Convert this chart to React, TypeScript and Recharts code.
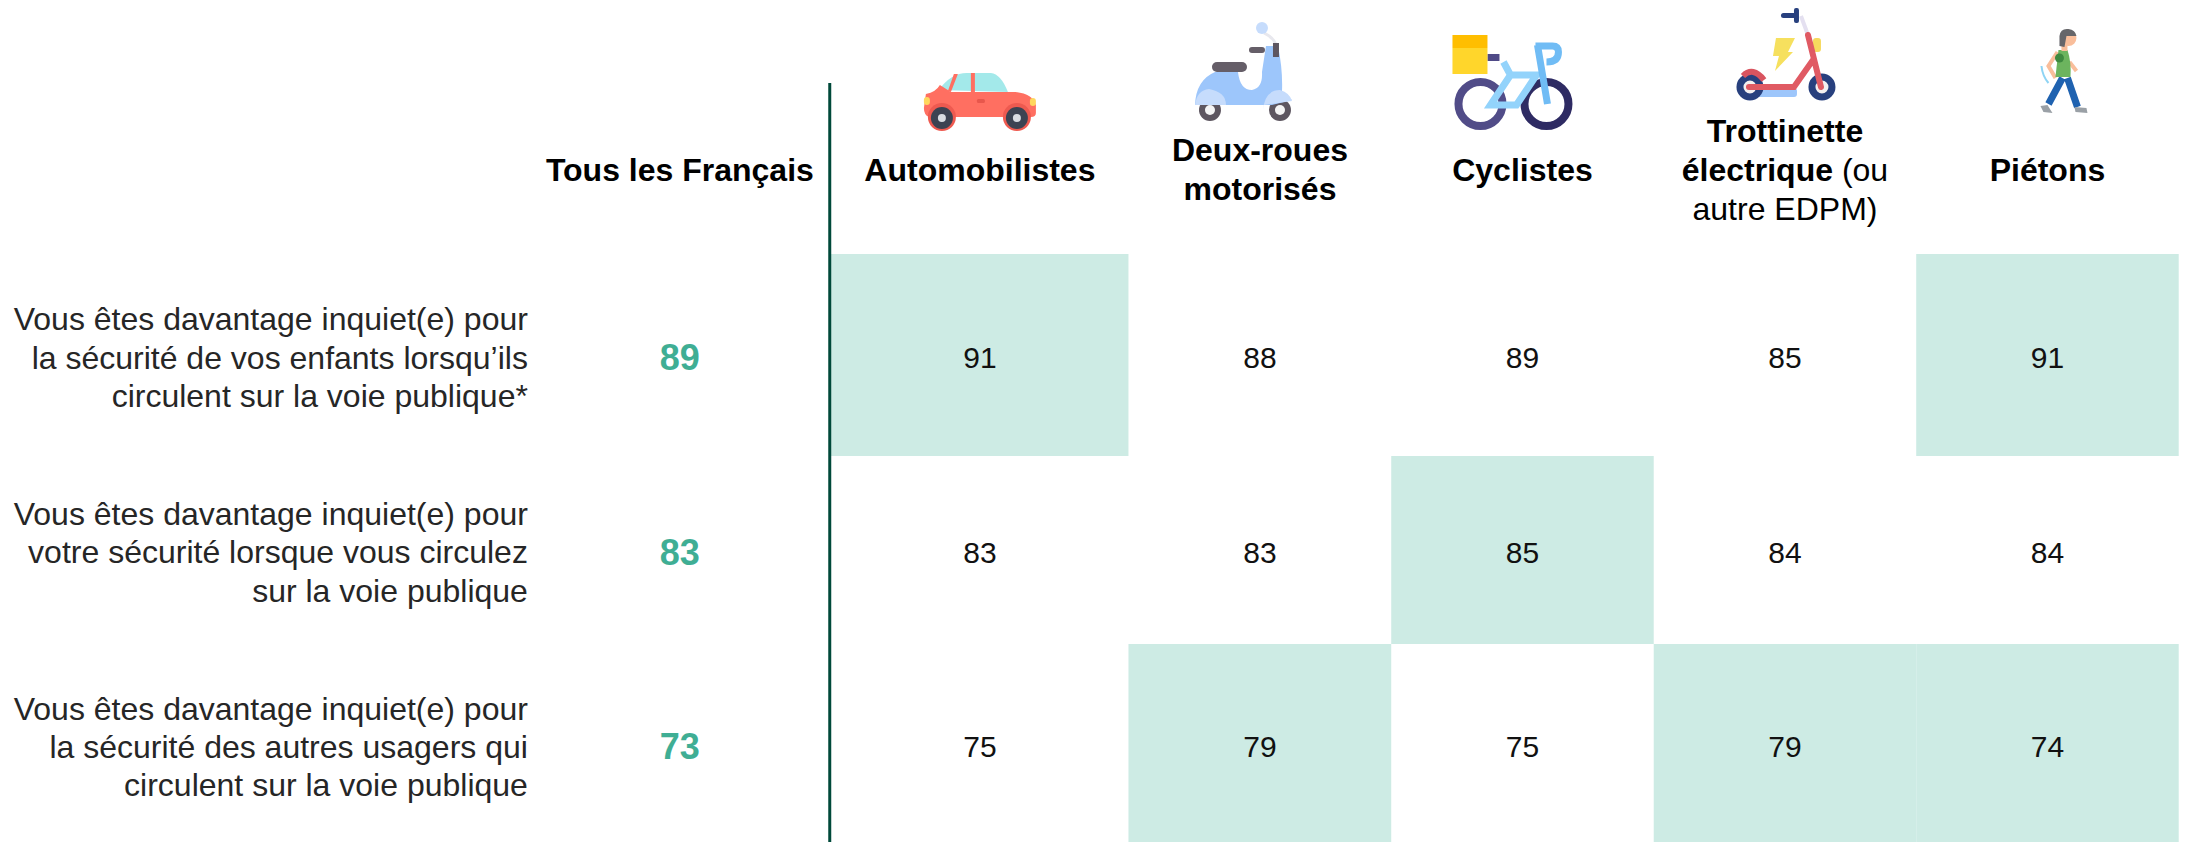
import { ScatterChart, Scatter, XAxis, YAxis, ReferenceArea, ReferenceLine } from "recharts";

const FONT = "'Liberation Sans', Arial, sans-serif";
const GREEN = "#3FAE94";
const CELL = "#CDEBE4";
const LINE = "#00493A";

// columns, in units of one column width (first column is a bit wider)
const colCentres = [-0.067, 1, 2, 3, 4];
const colEdges = [-0.634, 0.499, 1.5, 2.5, 3.5, 4.5];
const rowEdges = [-0.531, 0.506, 1.471, 2.488];
const overallX = -1.21;
const labelX = -1.789;
const headerY = -0.963;
const dividerX = -0.639;

const rowLabels = [
  ["Vous êtes davantage inquiet(e) pour", "la sécurité de vos enfants lorsqu’ils", "circulent sur la voie publique*"],
  ["Vous êtes davantage inquiet(e) pour", "votre sécurité lorsque vous circulez", "sur la voie publique"],
  ["Vous êtes davantage inquiet(e) pour", "la sécurité des autres usagers qui", "circulent sur la voie publique"],
];
const overall = [89, 83, 73];
const row1 = [91, 88, 89, 85, 91];
const row2 = [83, 83, 85, 84, 84];
const row3 = [75, 79, 75, 79, 74];
const shaded1 = [true, false, false, false, true];
const shaded2 = [false, false, true, false, false];
const shaded3 = [false, true, false, true, true];
const values = [row1, row2, row3];
const shaded = [shaded1, shaded2, shaded3];

type Part = [string, boolean];
const headerOverall: Part[][] = [[["Tous les Français", true]]];
const headers: Part[][][] = [
  [[["Automobilistes", true]]],
  [[["Deux-roues", true]], [["motorisés", true]]],
  [[["Cyclistes", true]]],
  [[["Trottinette", true]], [["électrique", true], [" (ou", false]], [["autre EDPM)", false]]],
  [[["Piétons", true]]],
];

const cellData = values.flatMap((r, y) => r.map((value, c) => ({ x: colCentres[c], y, value })));
const overallData = overall.map((value, y) => ({ x: overallX, y, value }));
const labelData = rowLabels.map((lines, y) => ({ x: labelX, y, lines }));
const headerData = [
  { x: overallX, y: headerY, lines: headerOverall, icon: -1 },
  ...headers.map((lines, i) => ({ x: colCentres[i], y: headerY, lines, icon: i })),
];

function Car() {
  return (
    <g transform="translate(-979 -170)">
      <path d="M938 90 Q950 73 966 73 L990 73 Q1000 74 1007 92 Z" fill="#A3E9EA" />
      <path d="M947 91 L953 74 L957 74 L950 92 Z M970 73 H974 V92 H970 Z" fill="#FF6F61" />
      <path d="M925 94 Q935 92 939 85 L950 92 L1015 92 Q1032 94 1035 105 V113 Q1035 117 1030 117 H928 Q923 115 923 108 Z" fill="#FF6F61" />
      <rect x="923" y="97" width="6" height="8" rx="3" fill="#FFD75E" />
      <rect x="1029" y="98" width="6" height="8" rx="3" fill="#FFD75E" />
      <rect x="976" y="99" width="8" height="4" rx="1.5" fill="#E8574C" />
      <circle cx="941" cy="117" r="14" fill="#EE5A50" />
      <circle cx="1016" cy="117" r="14" fill="#EE5A50" />
      <circle cx="941" cy="118" r="11" fill="#3C4352" />
      <circle cx="1016" cy="118" r="11" fill="#3C4352" />
      <circle cx="941" cy="118" r="4" fill="#D8DCE2" />
      <circle cx="1016" cy="118" r="4" fill="#D8DCE2" />
    </g>
  );
}

function Moped() {
  return (
    <g transform="translate(-1260 -170)">
      <path d="M1264 33 Q1275 38 1277 48" stroke="#E8E8EE" strokeWidth="3" fill="none" />
      <ellipse cx="1262" cy="28" rx="6" ry="6" fill="#C6DCFC" />
      <circle cx="1210" cy="110" r="11" fill="#5D5660" />
      <circle cx="1210" cy="110" r="5" fill="#F4F4F4" />
      <circle cx="1280" cy="110" r="11" fill="#5D5660" />
      <circle cx="1280" cy="110" r="5" fill="#F4F4F4" />
      <path d="M1195 105 Q1196 80 1215 72 H1238 Q1240 90 1252 90 Q1263 88 1262 72 L1266 46 H1278 Q1283 70 1282 92 L1292 100 L1272 105 Z" fill="#9DC6FB" />
      <path d="M1195 105 Q1197 90 1209 89 Q1226 92 1226 105 Z" fill="#C6DCFC" />
      <path d="M1263 110 Q1265 90 1280 90 Q1290 93 1292 101 L1264 105 Z" fill="#C6DCFC" />
      <rect x="1212" y="62" width="35" height="10" rx="5" fill="#655E68" />
      <rect x="1249" y="47" width="16" height="6" rx="3" fill="#655E68" />
      <rect x="1273" y="43" width="6" height="14" fill="#5D5660" />
    </g>
  );
}

function Bike() {
  const wheel = { fill: "none", strokeWidth: 8 };
  return (
    <g transform="translate(-1522 -170)">
      <circle cx="1480" cy="104" r="22" stroke="#514C88" {...wheel} />
      <circle cx="1546" cy="104" r="22" stroke="#2E2B63" {...wheel} />
      <path d="M1490 105 L1510 75 H1536 L1516 105 Z M1510 75 L1503 62" stroke="#93D3FB" strokeWidth="7" fill="none" />
      <path d="M1537 45 L1547 104 M1535 46 H1552 Q1558 46 1558 52 Q1558 62 1546 62" stroke="#70BCF5" strokeWidth="7" fill="none" />
      <rect x="1487" y="54" width="12" height="7" fill="#4F4A87" />
      <rect x="1452" y="48" width="35" height="26" fill="#FFD62B" />
      <rect x="1452" y="35" width="35" height="13" fill="#FFBE00" />
    </g>
  );
}

function Kick() {
  return (
    <g transform="translate(-1784 -170)">
      <path d="M1800 16 L1807 35" stroke="#E4E0F0" strokeWidth="4" fill="none" />
      <rect x="1780" y="13" width="15" height="5" rx="2.5" fill="#28407E" />
      <rect x="1793" y="8" width="5" height="15" rx="2" fill="#28407E" />
      <rect x="1812" y="38" width="8" height="14" rx="3" fill="#F6D95E" />
      <path d="M1775 38 H1794 L1787 52 H1792 L1774 71 L1778 56 H1772 Z" fill="#F6E05E" />
      <rect x="1750" y="88" width="46" height="9" rx="3" fill="#9DC6FB" />
      <circle cx="1749" cy="87" r="10" fill="#F4F0F0" stroke="#28407E" strokeWidth="7" />
      <circle cx="1821" cy="87" r="10" fill="#F4F0F0" stroke="#28407E" strokeWidth="7" />
      <path d="M1742 76 Q1752 66 1763 80" stroke="#D9545F" strokeWidth="6" fill="none" />
      <path d="M1748 87 H1793 L1812 60 M1807 35 L1820 87" stroke="#E05A63" strokeWidth="6" fill="none" strokeLinecap="round" />
    </g>
  );
}

function Walker() {
  return (
    <g transform="translate(-2047 -170)">
      <path d="M2041 66 Q2042 76 2048 83" stroke="#8ED4F4" strokeWidth="2" fill="none" />
      <path d="M2062 78 L2048 104 M2067 78 L2077 107" stroke="#1F62B0" strokeWidth="7" fill="none" />
      <path d="M2040 106 L2047 105 L2052 113 L2043 112 Z M2074 107 L2086 108 L2087 113 L2075 112 Z" fill="#9AA0A6" />
      <path d="M2057 52 L2048 66 L2055 78" stroke="#F9BE9B" strokeWidth="4" fill="none" />
      <path d="M2069 62 L2076 71" stroke="#F9BE9B" strokeWidth="4" fill="none" />
      <path d="M2058 50 H2067 Q2071 62 2070 77 H2055 Z" fill="#6CB45E" />
      <circle cx="2059" cy="58" r="4.5" fill="#3E8A40" />
      <rect x="2061" y="42" width="6" height="9" fill="#F9BE9B" />
      <circle cx="2068" cy="38" r="8" fill="#F9BE9B" />
      <path d="M2059 46 V36 Q2060 28 2068 29 Q2075 30 2076 36 H2066 L2064 47 Z" fill="#66666A" />
    </g>
  );
}

const icons = [Car, Moped, Bike, Kick, Walker];

const CellValue = (p: any) => (
  <text x={p.cx} y={p.cy} textAnchor="middle" dominantBaseline="central" fontFamily={FONT} fontSize={30} fill="#111">
    {p.payload.value}
  </text>
);

const OverallValue = (p: any) => (
  <text x={p.cx} y={p.cy} textAnchor="middle" dominantBaseline="central" fontFamily={FONT} fontSize={36} fontWeight={700} fill={GREEN}>
    {p.payload.value}
  </text>
);

const RowLabel = (p: any) => (
  <text textAnchor="end" fontFamily={FONT} fontSize={32} fill="#262626">
    {p.payload.lines.map((line: string, i: number) => (
      <tspan key={i} x={p.cx} y={p.cy + (i - 1) * 38.4} dominantBaseline="central">
        {line}
      </tspan>
    ))}
  </text>
);

const Header = (p: any) => {
  const lines: Part[][] = p.payload.lines;
  const Icon = icons[p.payload.icon];
  return (
    <g>
      {Icon && (
        <g transform={`translate(${p.cx} ${p.cy})`}>
          <Icon />
        </g>
      )}
      {lines.map((parts, i) => (
        <text
          key={i}
          x={p.cx}
          y={p.cy + (i - (lines.length - 1) / 2) * 39}
          textAnchor="middle"
          dominantBaseline="central"
          fontFamily={FONT}
          fontSize={32}
          fill="#000"
        >
          {parts.map(([t, bold], j) => (
            <tspan key={j} fontWeight={bold ? 700 : 400}>
              {t}
            </tspan>
          ))}
        </text>
      ))}
    </g>
  );
};

export default function App() {
  return (
    <div style={{ position: "absolute", left: 0, top: 0, width: 2190, height: 842, background: "#fff" }}>
      <ScatterChart width={2190} height={842} margin={{ top: 0, right: 0, bottom: 0, left: 0 }}>
        <XAxis type="number" dataKey="x" domain={[-3.8, 4.543]} hide allowDataOverflow />
        <YAxis type="number" dataKey="y" domain={[-1.836, 2.488]} reversed hide allowDataOverflow />
        {shaded.flatMap((r, y) =>
          r.map((on, c) =>
            on ? (
              <ReferenceArea
                key={`${y}-${c}`}
                x1={colEdges[c]}
                x2={colEdges[c + 1]}
                y1={rowEdges[y]}
                y2={rowEdges[y + 1]}
                fill={CELL}
                fillOpacity={1}
                stroke="none"
              />
            ) : null
          )
        )}
        <ReferenceLine
          segment={[
            { x: dividerX, y: -1.41 },
            { x: dividerX, y: rowEdges[3] },
          ]}
          stroke={LINE}
          strokeWidth={3}
        />
        <Scatter data={headerData} shape={Header} isAnimationActive={false} />
        <Scatter data={labelData} shape={RowLabel} isAnimationActive={false} />
        <Scatter data={overallData} shape={OverallValue} isAnimationActive={false} />
        <Scatter data={cellData} shape={CellValue} isAnimationActive={false} />
      </ScatterChart>
    </div>
  );
}
